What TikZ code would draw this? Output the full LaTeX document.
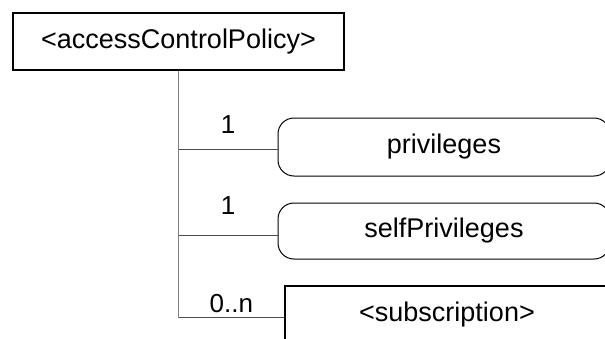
\documentclass[tikz,border=0pt]{standalone}
\usepackage{fontspec}
\setmainfont{Liberation Sans}
\begin{document}
\begin{tikzpicture}[x=0.5pt,y=-0.5pt,
    elem/.style={draw,line width=0.9pt,inner sep=0pt,font=\fontsize{13.5}{16}\selectfont},
    attr/.style={draw,line width=0.5pt,rounded corners=8pt,inner sep=0pt,font=\fontsize{13.5}{16}\selectfont},
    card/.style={inner sep=0pt,anchor=south,font=\fontsize{13}{15}\selectfont}]
      \clip (0,0) rectangle (605,338);
      \draw
        (178.5, 41.5) node[elem,minimum width=165.5pt,minimum height=28.5pt] (acp){<accessControlPolicy>}
        (444, 147) node[attr,minimum width=166pt,minimum height=29pt] (priv){privileges}
        (444, 231) node[attr,minimum width=166pt,minimum height=28pt] (self){selfPrivileges}
        (447, 315) node[elem,minimum width=162pt,minimum height=29pt] (sub){<subscription>};
      \coordinate (end) at (178.5, 318);
      \draw[line width=0.65pt,black!50] (acp.south) -- (end);
      \begin{scope}[line width=0.5pt,black!70]
        \draw ([yshift=-1pt]priv.west) -- ([yshift=-1pt]priv.west -| end) node[card,black,midway,above=7.5pt]{1};
        \draw ([yshift=-2pt]self.west) -- ([yshift=-2pt]self.west -| end) node[card,black,midway,above=10pt]{1};
        \draw ([yshift=-1pt]sub.west) -- ([yshift=-1pt]sub.west -| end) node[card,black,midway,above=2pt]{0..n};
      \end{scope}
    \end{tikzpicture}
\end{document}
